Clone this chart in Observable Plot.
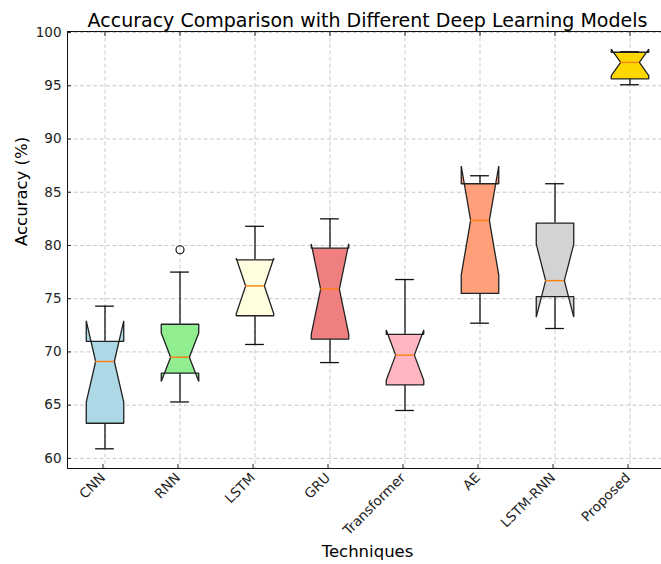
<!DOCTYPE html>
<html><head><meta charset="utf-8">
<script src="https://cdn.jsdelivr.net/npm/d3@7"></script>
<script src="https://cdn.jsdelivr.net/npm/@observablehq/plot@0.6"></script>
<style>html,body{margin:0;padding:0;background:#fff;overflow:hidden;width:661px;height:564px} svg{max-width:none !important;}</style>
</head><body><div id="chart"></div>
<script>
const models = ["CNN", "RNN", "LSTM", "GRU", "Transformer", "AE", "LSTM-RNN", "Proposed"];
const colors = ["#add8e6", "#90ee90", "#ffffe0", "#f08080", "#ffb6c1", "#ffa07a", "#d3d3d3", "#ffd700"];
const whiskerLow  = [60.9, 65.3, 70.7, 69.0, 64.5, 72.7, 72.2, 95.1];
const q1          = [63.3, 68.0, 73.4, 71.2, 66.9, 75.5, 75.2, 95.65];
const median      = [69.1, 69.5, 76.2, 75.9, 69.7, 82.35, 76.7, 97.2];
const q3          = [71.0, 72.6, 78.65, 79.75, 71.65, 85.8, 82.1, 98.15];
const whiskerHigh = [74.3, 77.5, 81.8, 82.5, 76.8, 86.55, 85.8, 98.2];
const outlierModel = ["RNN"];
const outlierValue = [79.6];
const sampleSize = 10;
const yTicks = [60, 65, 70, 75, 80, 85, 90, 95, 100];
const titleText = "Accuracy Comparison with Different Deep Learning Models";
const xLabel = "Techniques";
const yLabel = "Accuracy (%)";

const halfW = 0.25, capHalf = 0.125;
const boxes = models.map((m, i) => {
  const notch = 1.57 * (q3[i] - q1[i]) / Math.sqrt(sampleSize);
  return {model: m, pos: i + 1, color: colors[i], lo: whiskerLow[i], q1: q1[i], med: median[i],
          q3: q3[i], hi: whiskerHigh[i], nlo: median[i] - notch, nhi: median[i] + notch};
});
const polys = boxes.flatMap(b => {
  const p = b.pos;
  const pts = [[p - halfW, b.q1], [p - halfW, b.nlo], [p - capHalf, b.med], [p - halfW, b.nhi], [p - halfW, b.q3],
               [p + halfW, b.q3], [p + halfW, b.nhi], [p + capHalf, b.med], [p + halfW, b.nlo], [p + halfW, b.q1],
               [p - halfW, b.q1]];
  return pts.map(([x, y]) => ({model: b.model, color: b.color, x, y}));
});
const outliers = outlierModel.map((m, i) => ({pos: models.indexOf(m) + 1, v: outlierValue[i]}));
const positions = models.map((m, i) => i + 1);

const grid = {stroke: "#c4c4c4", strokeOpacity: 1, strokeDasharray: "4,2.5", strokeWidth: 0.9};
const plot = Plot.plot({
  width: 667, height: 564,
  marginTop: 31, marginBottom: 96, marginLeft: 67, marginRight: 0,
  style: {fontFamily: "DejaVu Sans, sans-serif", fontSize: "13.5px", color: "#222", background: "#fff", overflow: "visible", maxWidth: "none"},
  x: {domain: [0.5, 8.5]},
  y: {domain: [59.05, 100.1]},
  color: {type: "identity"},
  marks: [
    Plot.gridX(positions, grid),
    Plot.gridY(yTicks, grid),
    Plot.ruleX(boxes, {x: "pos", y1: "q3", y2: "hi", stroke: "#111", strokeWidth: 1.3}),
    Plot.ruleX(boxes, {x: "pos", y1: "lo", y2: "q1", stroke: "#111", strokeWidth: 1.3}),
    Plot.ruleY(boxes, {y: "hi", x1: d => d.pos - capHalf, x2: d => d.pos + capHalf, stroke: "#111", strokeWidth: 1.3}),
    Plot.ruleY(boxes, {y: "lo", x1: d => d.pos - capHalf, x2: d => d.pos + capHalf, stroke: "#111", strokeWidth: 1.3}),
    Plot.line(polys, {x: "x", y: "y", z: "model", fill: "color", stroke: "#222", strokeWidth: 1.3, strokeLinejoin: "miter"}),
    Plot.ruleY(boxes, {y: "med", x1: d => d.pos - capHalf, x2: d => d.pos + capHalf, stroke: "#ff7f0e", strokeWidth: 1.4}),
    Plot.dot(outliers, {x: "pos", y: "v", r: 4, stroke: "#111", fill: "none", strokeWidth: 1.2}),
    Plot.frame({stroke: "#111", strokeWidth: 1}),
    Plot.axisX(positions, {anchor: "bottom", tickFormat: d => models[d - 1], tickRotate: -45, tickSize: -4, tickPadding: 11, dx: -2, label: null, fill: "#222"}),
    Plot.axisX(positions, {anchor: "top", tickFormat: () => "", tickSize: -4, label: null}),
    Plot.axisY(yTicks, {anchor: "left", tickSize: -4, tickPadding: 10, label: null, fill: "#222"}),
    Plot.text([titleText], {frameAnchor: "top", dy: -18, text: d => d, fontSize: 19, fill: "#000"}),
    Plot.text([xLabel], {frameAnchor: "bottom", dy: 88, text: d => d, fontSize: 16.5, fill: "#000"}),
    Plot.text([yLabel], {frameAnchor: "left", dx: -46, dy: -4, rotate: -90, text: d => d, fontSize: 16.5, fill: "#000"})
  ]
});
document.getElementById("chart").appendChild(plot);
</script>
</body></html>
